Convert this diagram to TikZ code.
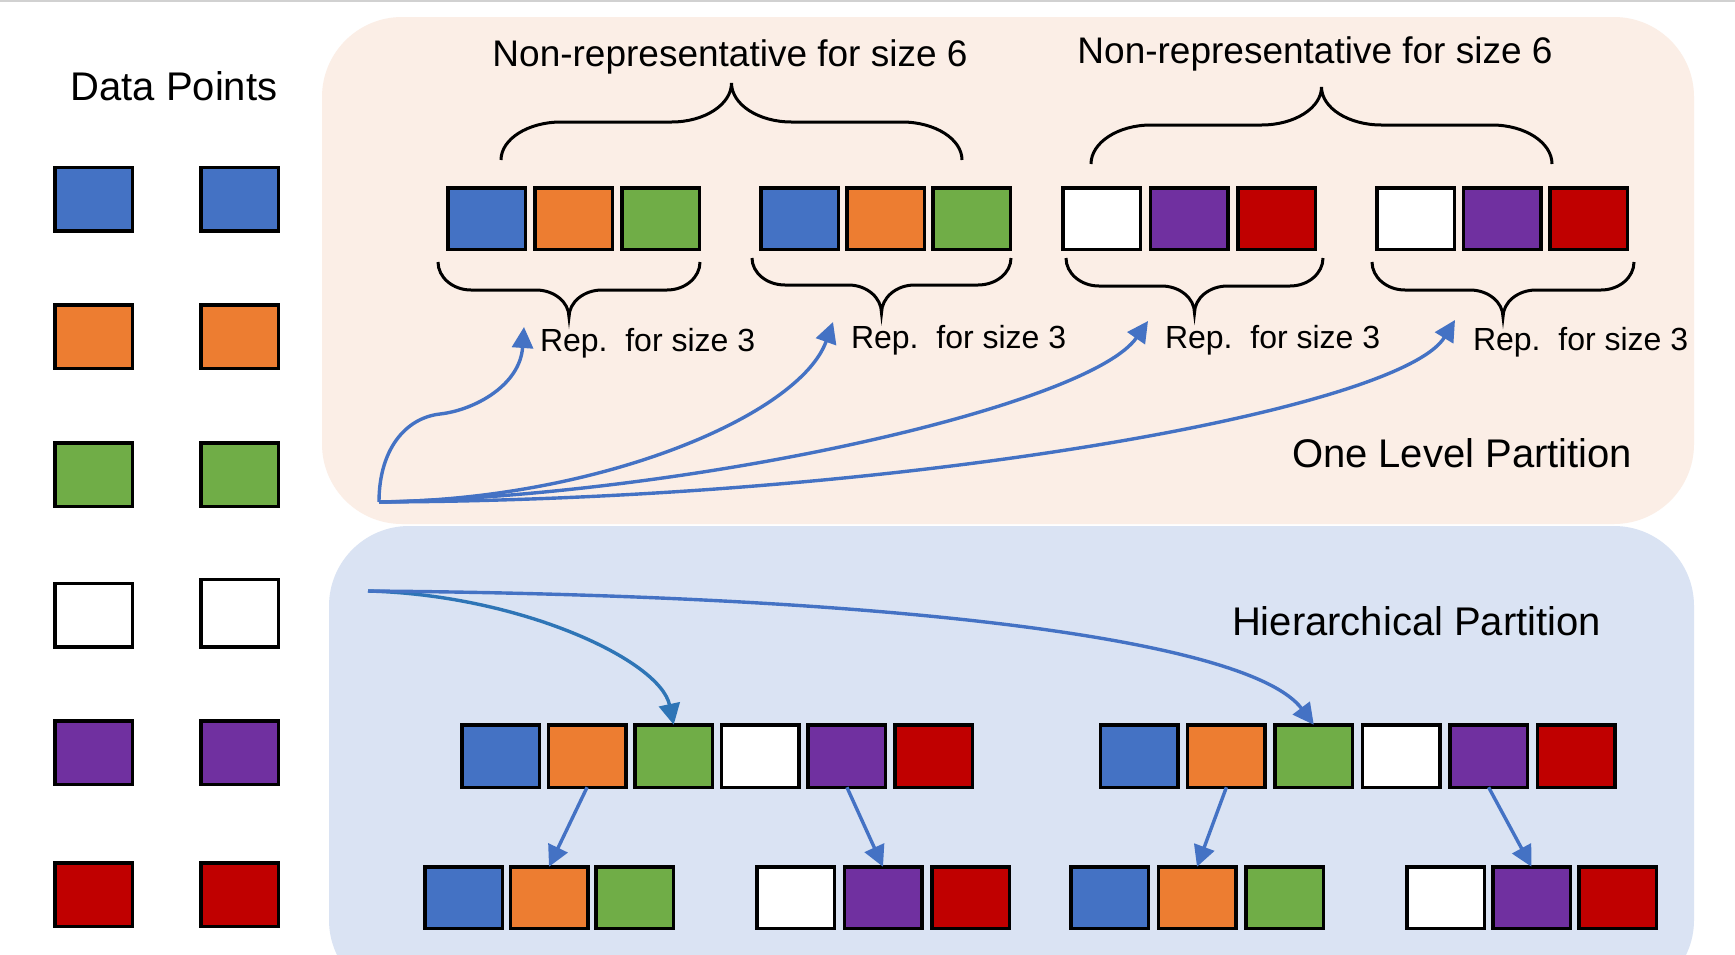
\documentclass[tikz,border=0pt]{standalone}
\usepackage{fontspec}
\setmainfont{Liberation Sans}
\usetikzlibrary{arrows.meta}
\definecolor{cb}{HTML}{4472C4}
\definecolor{co}{HTML}{ED7D31}
\definecolor{cg}{HTML}{70AD47}
\definecolor{cw}{HTML}{FFFFFF}
\definecolor{cp}{HTML}{7030A0}
\definecolor{cr}{HTML}{C00000}
\definecolor{peach}{HTML}{FBEEE6}
\definecolor{lblue}{HTML}{DAE3F3}
\definecolor{arrblue}{HTML}{4472C4}
\definecolor{arrdark}{HTML}{2E75B6}
\tikzset{
  sq/.style={draw=black, line width=3.5pt, minimum width=77.5pt, inner sep=0pt, outer sep=0pt},
  arr/.style={draw=arrblue, line width=3.4pt, -{Triangle[length=21pt,width=21pt]}},
  brc/.style={draw=black, line width=3pt},
  txt/.style={inner sep=0pt, outer sep=0pt, text=black},
}
\newcommand{\sqrow}[6]{%
  \foreach \c [count=\i] in {#6} {
    \node[sq, minimum height=#5, fill=\c] (#1-\i) at ({#2+(\i-1)*#4},#3) {};
  }}
\newcommand{\cbrace}[6]{%
  \draw[brc] (#1,#3) .. controls (#1,{#3+0.55*(#4-#3)}) and ({#1+0.45*#6},#4) .. ({#1+#6},#4)
   -- ({(#1+#2)/2-#6},#4) .. controls ({(#1+#2)/2-0.45*#6},#4) and ({(#1+#2)/2},{#5-0.55*(#5-#4)}) .. ({(#1+#2)/2},#5)
   .. controls ({(#1+#2)/2},{#5-0.55*(#5-#4)}) and ({(#1+#2)/2+0.45*#6},#4) .. ({(#1+#2)/2+#6},#4)
   -- ({#2-#6},#4) .. controls ({#2-0.45*#6},#4) and (#2,{#3+0.55*(#4-#3)}) .. (#2,#3);}
\begin{document}
\begin{tikzpicture}[x=1pt,y=-1pt]
\useasboundingbox (0,0) rectangle (1735,954);
\clip (0,0) rectangle (1735,954);
\fill[white] (0,0) rectangle (1735,954);
\draw[black!18, line width=2pt] (0,1) -- (1735,1);

% panels
\fill[peach, rounded corners=80pt] (322,17) rectangle (1694,524);
\fill[lblue, rounded corners=80pt] (329,526) rectangle (1694,1000);

% data points column
\node[txt, anchor=base, font=\fontsize{40pt}{48pt}\selectfont] (dp) at (174,100) {Data Points};
\sqrow{la}{93.5}{199}{0}{63.5}{cb}
\sqrow{lb}{239.5}{199}{0}{63.5}{cb}
\sqrow{lc}{93.5}{336.5}{0}{63.5}{co}
\sqrow{ld}{239.5}{336.5}{0}{63.5}{co}
\sqrow{le}{93.5}{474.5}{0}{63.5}{cg}
\sqrow{lf}{239.5}{474.5}{0}{63.5}{cg}
\sqrow{lg}{93.5}{615}{0}{63.5}{cw}
\sqrow{lh}{239.5}{613}{0}{67.5}{cw}
\sqrow{li}{93.5}{752.5}{0}{63.5}{cp}
\sqrow{lj}{239.5}{752.5}{0}{63.5}{cp}
\sqrow{lk}{93.5}{894.5}{0}{63.5}{cr}
\sqrow{ll}{239.5}{894.5}{0}{63.5}{cr}

% one level partition
\sqrow{g1}{486.5}{218.5}{87}{61.5}{cb,co,cg}
\sqrow{g2}{799.5}{218.5}{86}{61.5}{cb,co,cg}
\sqrow{g3}{1101.5}{218.5}{87.5}{61.5}{cw,cp,cr}
\sqrow{g4}{1415.5}{218.5}{86.5}{61.5}{cw,cp,cr}

\cbrace{501}{962}{160}{122}{83}{60}
\cbrace{1091}{1552}{164}{125}{87}{60}
\cbrace{438}{700}{262}{290}{317}{33}
\cbrace{752}{1011}{258}{285}{313}{33}
\cbrace{1066}{1323}{258}{286}{313}{33}
\cbrace{1372}{1634}{262}{290}{317}{33}

\node[txt, anchor=base, font=\fontsize{37pt}{44pt}\selectfont] (nr1) at (730,66) {Non-representative for size 6};
\node[txt, anchor=base, font=\fontsize{37pt}{44pt}\selectfont] (nr2) at (1315,63) {Non-representative for size 6};
\node[txt, anchor=base west, font=\fontsize{32pt}{38pt}\selectfont] (rp1) at (540,351) {Rep.\ \ for size 3};
\node[txt, anchor=base west, font=\fontsize{32pt}{38pt}\selectfont] (rp2) at (851,348) {Rep.\ \ for size 3};
\node[txt, anchor=base west, font=\fontsize{32pt}{38pt}\selectfont] (rp3) at (1165,348) {Rep.\ \ for size 3};
\node[txt, anchor=base west, font=\fontsize{32pt}{38pt}\selectfont] (rp4) at (1473,350) {Rep.\ \ for size 3};
\node[txt, anchor=base west, font=\fontsize{40pt}{48pt}\selectfont] (olp) at (1292,467) {One Level Partition};

\coordinate (oT) at (379,502);
\coordinate (t1) at (524,327);
\coordinate (t2) at (833,322);
\coordinate (t3) at (1148,321);
\coordinate (t4) at (1455,320);
\draw[arr] (oT) .. controls (379,450) and (405,418) .. (440,414) .. controls (475,410) and (520,385) .. (t1);
\draw[arr] (oT) .. controls (600,500) and (800,415) .. (t2);
\draw[arr] (oT) .. controls (700,495) and (1090,405) .. (t3);
\draw[arr] (oT) .. controls (900,500) and (1400,410) .. (t4);

% hierarchical partition
\node[txt, anchor=base west, font=\fontsize{40pt}{48pt}\selectfont] (hp) at (1232,635) {Hierarchical Partition};
\sqrow{ha}{500.5}{756}{86.6}{62.5}{cb,co,cg,cw,cp,cr}
\sqrow{hb}{1139}{756}{87.4}{62.5}{cb,co,cg,cw,cp,cr}
\sqrow{a1}{463.5}{897.5}{85.5}{61.5}{cb,co,cg}
\sqrow{a2}{795.5}{897.5}{87.5}{61.5}{cw,cp,cr}
\sqrow{b1}{1109.5}{897.5}{87.5}{61.5}{cb,co,cg}
\sqrow{b2}{1445.5}{897.5}{86}{61.5}{cw,cp,cr}

\coordinate (oB) at (368,591);
\draw[arr, draw=arrdark] (oB) .. controls (520,595) and (660,660) .. (ha-3.north);
\draw[arr] (oB) .. controls (900,595) and (1250,640) .. (hb-3.north);

\draw[arr] (ha-2.south) -- (a1-2.north);
\draw[arr] (ha-5.south) -- (a2-2.north);
\draw[arr] (hb-2.south) -- (b1-2.north);
\draw[arr] (hb-5.south) -- (b2-2.north);
\end{tikzpicture}
\end{document}
